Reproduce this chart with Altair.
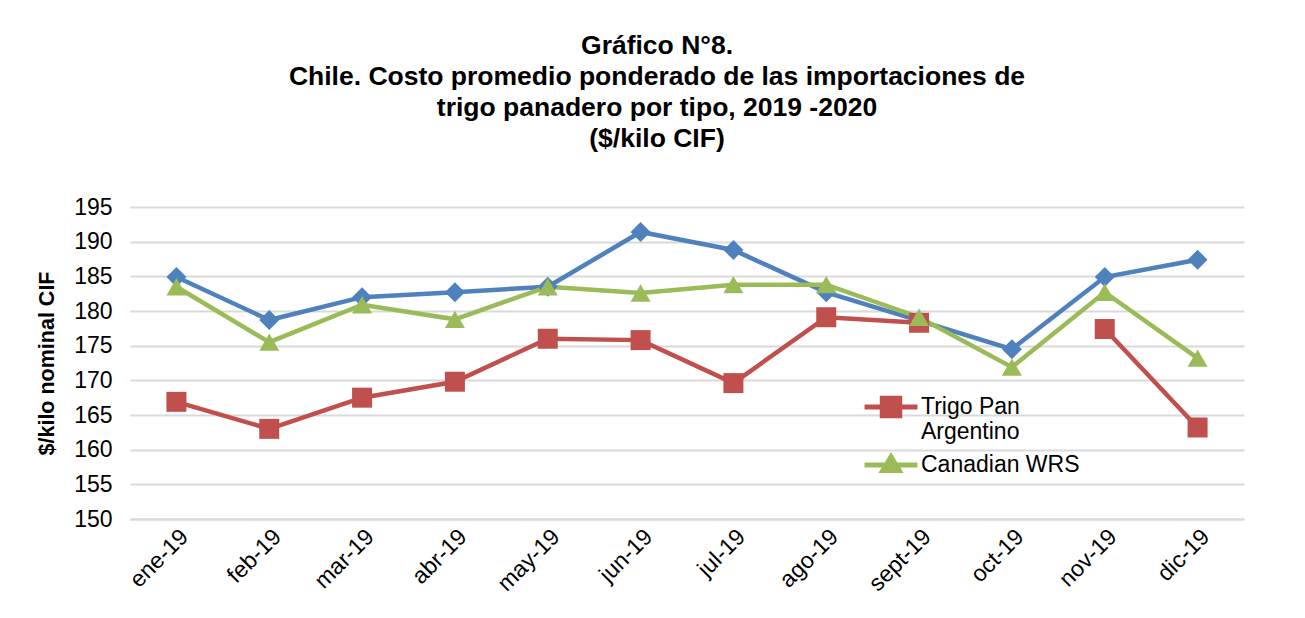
import altair as alt
import pandas as pd

months = ["ene-19", "feb-19", "mar-19", "abr-19", "may-19", "jun-19",
          "jul-19", "ago-19", "sept-19", "oct-19", "nov-19", "dic-19"]
serie_azul = [184.9, 178.7, 182.0, 182.7, 183.5, 191.4, 188.8, 182.7, 178.6, 174.5, 184.9, 187.4]
trigo_pan_argentino = [166.9, 163.0, 167.5, 169.8, 176.0, 175.8, 169.6, 179.1, 178.3, None, 177.4, 163.2]
canadian_wrs = [183.5, 175.5, 180.9, 178.8, 183.5, 182.6, 183.8, 183.8, 179.1, 171.9, 182.7, 173.2]

names = ["Serie 1", "Trigo Pan Argentino", "Canadian WRS"]
colors = ["#4F81BD", "#C0504D", "#9BBB59"]
shapes = ["diamond", "square", "triangle-up"]

rows = []
for name, vals in zip(names, [serie_azul, trigo_pan_argentino, canadian_wrs]):
    for m, v in zip(months, vals):
        rows.append({"mes": m, "valor": v, "serie": name})
df = pd.DataFrame(rows)

x_enc = alt.X("mes:N", sort=months, title=None,
              scale=alt.Scale(paddingInner=1, paddingOuter=0.5),
              axis=alt.Axis(labelAngle=-45, labelFontSize=23, labelColor="#000000",
                            labelFont="Liberation Sans", ticks=False, domain=True,
                            domainColor="#D9D9D9", domainWidth=2, labelPadding=6,
                            grid=False))
y_enc = alt.Y("valor:Q", title="$/kilo nominal CIF",
              scale=alt.Scale(domain=[150, 195], nice=False, zero=False),
              axis=alt.Axis(values=list(range(150, 196, 5)), labelFontSize=23,
                            labelColor="#000000", labelFont="Liberation Sans",
                            titleFontSize=21.5, titleFont="Liberation Sans", titleFontWeight="bold",
                            titleColor="#000000", ticks=False, domain=False,
                            gridColor="#D9D9D9", gridWidth=2, labelPadding=18,
                            titlePadding=15))

color_scale = alt.Scale(domain=names, range=colors)

lines = alt.Chart(df).mark_line(strokeWidth=4.5, invalid="break-paths-show-domains").encode(
    x=x_enc, y=y_enc,
    color=alt.Color("serie:N", scale=color_scale, legend=None),
    detail="serie:N",
)

points = alt.Chart(df).mark_point(filled=True, opacity=1, size=400).encode(
    x=x_enc, y=y_enc,
    color=alt.Color("serie:N", scale=color_scale, legend=None),
    shape=alt.Shape("serie:N", scale=alt.Scale(domain=names, range=shapes), legend=None),
)

legend_names = ["Trigo Pan Argentino", "Canadian WRS"]
legend_paths = [
    "M-2,0H2M-0.66,-0.66H0.66V0.66H-0.66Z",
    "M-2,0H2M-0.62,0.42L0,-0.62L0.62,0.42Z",
]
legend_df = df[df["serie"].isin(legend_names)].rename(columns={"serie": "leyenda"})
legend_color = alt.Scale(domain=legend_names, range=colors[1:])

legend_layer = alt.Chart(legend_df).mark_point(filled=False, opacity=1, strokeWidth=5).encode(
    x=x_enc, y=y_enc,
    color=alt.Color("leyenda:N", scale=legend_color,
                    legend=alt.Legend(title=None, orient="none", legendX=745, legendY=184,
                                      labelFontSize=23, labelFont="Liberation Sans",
                                      labelColor="#000000", symbolSize=700,
                                      symbolStrokeWidth=5, symbolOpacity=1,
                                      rowPadding=2, labelOffset=14,
                                      labelExpr="datum.label == 'Trigo Pan Argentino' ? ['Trigo Pan', 'Argentino'] : datum.label")),
    fill=alt.Fill("leyenda:N", scale=legend_color),
    shape=alt.Shape("leyenda:N", scale=alt.Scale(domain=legend_names, range=legend_paths)),
).transform_filter("false")

chart = alt.layer(lines, points, legend_layer).resolve_scale(
    color="independent", shape="independent", fill="independent"
).properties(
    width=1114, height=312,
    padding={"left": 122, "top": 199, "right": 53, "bottom": 91},
    autosize=alt.AutoSizeParams(type="none"),
    background="#FFFFFF",
    title=alt.Title(
        ["Gráfico N°8.",
         "Chile. Costo promedio ponderado de las importaciones de",
         "trigo panadero por tipo, 2019 -2020",
         "($/kilo CIF)"],
        font="Liberation Sans", fontSize=26.5, fontWeight="bold", color="#000000",
        anchor="middle", dx=-30, offset=44, lineHeight=31,
    ),
).configure_view(stroke=None, strokeWidth=0)

chart.save("out.html", embed_options={"renderer": "svg", "actions": False})
